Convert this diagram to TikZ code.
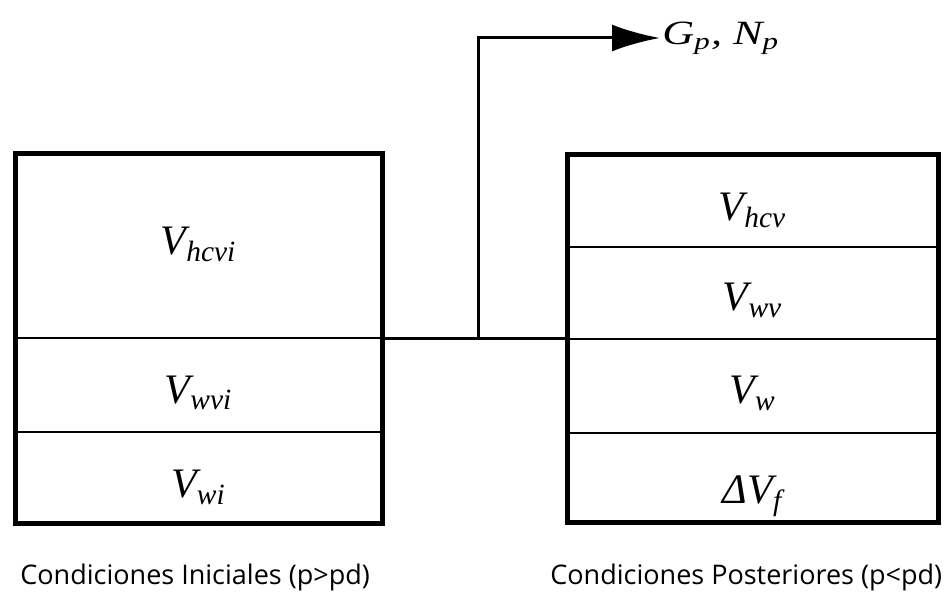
\documentclass[tikz,border=0pt]{standalone}
\usepackage{fontspec}
\usepackage{graphicx}
\setmainfont{Liberation Serif}
\newfontfamily\capfont{Open Sans}
\usepackage{tikz}
\usetikzlibrary{arrows.meta,positioning,calc}
\newcommand{\down}[2]{\raisebox{-#1}{#2}}
\tikzset{
  cell/.style={draw,line width=1pt,inner sep=0pt,outer sep=0pt,
    text height=14pt,text depth=2pt,
    font=\fontsize{21}{24}\selectfont\itshape},
  leftcell/.style={cell,minimum width=183.5pt},
  rightcell/.style={cell,minimum width=185.5pt},
  frame/.style={line width=2.5pt},
  link/.style={line width=1.5pt},
  arrow/.style={link,-{Latex[length=24pt,width=13.5pt]}},
  caption/.style={font=\capfont\fontsize{13.5}{16}\selectfont,inner sep=0pt,anchor=base west}
}

\begin{document}
\begin{tikzpicture}[x=0.5pt,y=-0.5pt]
  \useasboundingbox (0,0) rectangle (950,592);
  % initial conditions
  \node[leftcell,minimum height=92.5pt] (hcvi) at (198.5,246) {\down{-1.5pt}{V\textsubscript{hcvi}}};
  \node[leftcell,minimum height=47pt,below=0pt of hcvi] (wvi) {\down{3pt}{V\textsubscript{wvi}}};
  \node[leftcell,minimum height=45.5pt,below=0pt of wvi] (wi) {\down{4pt}{V\textsubscript{wi}}};
  \draw[frame] (hcvi.north west) rectangle (wi.south east);
  % later conditions
  \node[rightcell,minimum height=46pt] (hcv) at (752.5,201) {\down{4pt}{V\textsubscript{hcv}}};
  \node[rightcell,minimum height=46pt,below=0pt of hcv] (wv) {\down{3pt}{V\textsubscript{wv}}};
  \node[rightcell,minimum height=47pt,below=0pt of wv] (w) {\down{3pt}{V\textsubscript{w}}};
  \node[rightcell,minimum height=45pt,below=0pt of w] (df) {\down{7pt}{ΔV\textsubscript{f}}};
  \draw[frame] (hcv.north west) rectangle (df.south east);
  % produced gas and oil
  \node[anchor=west,inner sep=1pt,font=\fontsize{17}{20}\selectfont\itshape] (gp) at (660,38)
    {\scalebox{1.3}[1]{G\textsubscript{p}, N\textsubscript{p}}};
  \draw[link] (hcvi.south east) -- (hcvi.south east -| wv.west);
  \coordinate (tap) at ($(hcvi.south east)!0.52!(hcvi.south east -| wv.west)$);
  \draw[arrow] (tap) |- (gp.west);
  % captions
  \node[caption] (ini) at (20,585) {Condiciones Iniciales (p>pd)};
  \node[caption] (post) at (550,585) {Condiciones Posteriores (p<pd)};
\end{tikzpicture}
\end{document}
